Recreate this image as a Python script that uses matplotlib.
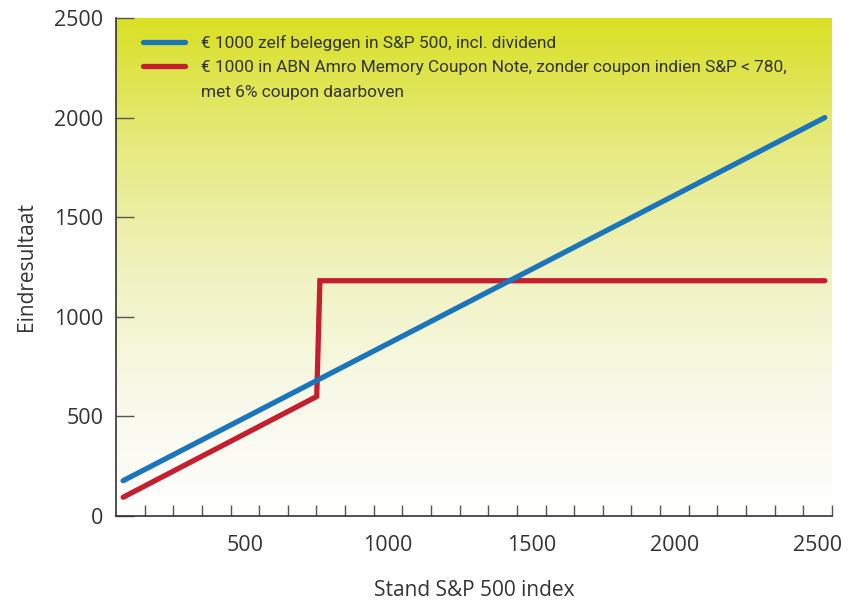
import matplotlib.pyplot as plt
import matplotlib.colors as mcolors
from matplotlib.lines import Line2D
import numpy as np

# data
sp_x = [25, 2475]
sp_y = [177, 2000]
note_x = [25, 701, 712, 2475]
note_y = [94, 600, 1181, 1181]

x_label_pos = [450, 950, 1450, 1950, 2450]
x_labels = ['500', '1000', '1500', '2000', '2500']
y_ticks = [0, 500, 1000, 1500, 2000, 2500]

blue = '#1b75bb'
red = '#c41e2f'
txt = '#333333'

plt.rcParams['font.family'] = ['Open Sans', 'DejaVu Sans']

leg_size = 12.4

fig = plt.figure(figsize=(8.54, 6.02), dpi=100)
ax = fig.add_axes([0.1358, 0.1429, 0.8384, 0.8272])

# background gradient: yellow-green at top fading to white
stops = [(0.0, (217, 224, 36)), (0.25, (230, 234, 125)), (0.5, (240, 242, 190)),
         (0.75, (248, 249, 232)), (1.0, (255, 255, 255))]
cmap = mcolors.LinearSegmentedColormap.from_list(
    'bg', [(p, tuple(c / 255 for c in col)) for p, col in stops])
grad = np.linspace(0, 1, 256).reshape(-1, 1)
ax.imshow(grad, cmap=cmap, aspect='auto', extent=[0, 2500, 0, 2500], zorder=0)

ax.plot(sp_x, sp_y, color=blue, lw=3.8, solid_capstyle='round', zorder=3)
ax.plot(note_x, note_y, color=red, lw=3.8, solid_capstyle='round',
        solid_joinstyle='miter', zorder=2)

ax.set_xlim(0, 2500)
ax.set_ylim(0, 2500)

for s in ['top', 'right']:
    ax.spines[s].set_visible(False)
for s in ['left', 'bottom']:
    ax.spines[s].set_color(txt)
    ax.spines[s].set_linewidth(1.2)

ax.set_yticks(y_ticks)
ax.tick_params(axis='y', direction='in', length=13, width=1, color='#555555',
               labelsize=15.5, labelcolor=txt, pad=9)

ax.set_xticks(np.arange(100, 2501, 100), minor=True)
ax.set_xticks(x_label_pos)
ax.set_xticklabels(x_labels)
ax.tick_params(axis='x', which='major', length=0, labelsize=15.5,
               labelcolor=txt, pad=14)
ax.tick_params(axis='x', which='minor', direction='in', length=8, width=1,
               color='#555555')

ax.set_xlabel('Stand S&P 500 index', fontsize=15, color=txt, labelpad=17)
ax.set_ylabel('Eindresultaat', fontsize=15, color=txt, labelpad=12)

handles = [Line2D([], [], color=blue, lw=3.8, solid_capstyle='round'),
           Line2D([], [], color=red, lw=3.8, solid_capstyle='round'),
           Line2D([], [], color='none')]
labels = ['€ 1000 zelf beleggen in S&P 500, incl. dividend',
          '€ 1000 in ABN Amro Memory Coupon Note, zonder coupon indien S&P < 780,',
          'met 6% coupon daarboven']
leg = ax.legend(handles, labels, loc='upper left', bbox_to_anchor=(0.0377, 0.966),
                frameon=False, borderpad=0, borderaxespad=0,
                handlelength=30 / leg_size, handletextpad=12 / leg_size,
                labelspacing=0.55,
                prop={'family': ['Roboto', 'DejaVu Sans'], 'size': leg_size})
for t in leg.get_texts():
    t.set_color(txt)

fig.savefig('out.png', dpi=100)
